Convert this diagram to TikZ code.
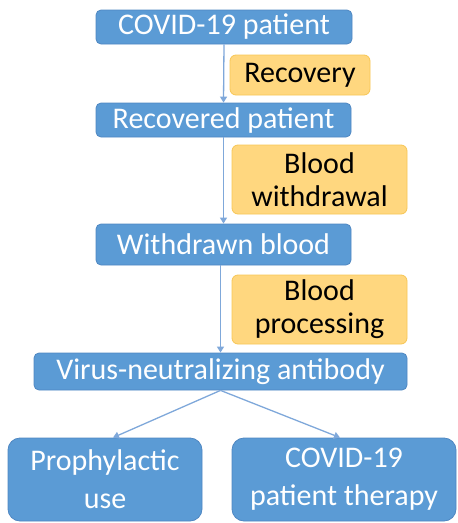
\documentclass[tikz,border=0pt]{standalone}
\usepackage{fontspec}
\setmainfont{Carlito}
\usetikzlibrary{arrows.meta,calc}
\definecolor{boxblue}{HTML}{5B9BD5}
\definecolor{boxblueedge}{HTML}{4F87C2}
\definecolor{boxorange}{HTML}{FFD77F}
\definecolor{boxorangeedge}{HTML}{F7C655}
\definecolor{linkblue}{HTML}{7FA8DA}
\tikzset{
  bluebox/.style={rectangle, rounded corners=5pt, fill=boxblue, draw=boxblueedge, line width=0.8pt,
    text=white, align=center, inner sep=0pt, font=\fontsize{30}{33}\selectfont},
  bigbox/.style={bluebox, rounded corners=12pt, font=\fontsize{30}{38}\selectfont},
  orangebox/.style={rectangle, rounded corners=6pt, fill=boxorange, draw=boxorangeedge, line width=0.8pt,
    text=black, align=center, inner sep=0pt, font=\fontsize{30}{33}\selectfont},
  link/.style={draw=linkblue, line width=1.3pt, -{Triangle[length=6pt,width=7pt]}},
}
\begin{document}
\begin{tikzpicture}[x=1pt,y=-1pt]
\useasboundingbox (0,0) rectangle (458,523);
\node[bluebox, minimum width=256pt, minimum height=34pt] (b1) at (224,27) {COVID-19 patient};
\node[orangebox, minimum width=140pt, minimum height=40pt] (o1) at (300,75) {Recovery};
\node[bluebox, minimum width=255pt, minimum height=34pt] (b2) at (223.5,120) {Recovered patient};
\node[orangebox, minimum width=175pt, minimum height=69pt] (o2) at (319.5,179.5) {Blood\\withdrawal};
\node[bluebox, minimum width=255pt, minimum height=41pt] (b3) at (223.5,244.5) {Withdrawn blood};
\node[orangebox, minimum width=175pt, minimum height=69pt] (o3) at (319.5,309.5) {Blood\\processing};
\node[bluebox, minimum width=373pt, minimum height=37pt] (b4) at (220.5,371.5) {Virus-neutralizing antibody};
\node[bigbox, minimum width=194pt, minimum height=83pt] (b5) at (105,479.5) {Prophylactic\\use};
\node[bigbox, minimum width=224pt, minimum height=83pt] (b6) at (344,479.5) {COVID-19\\patient therapy};
\draw[link] (b1.south) -- (b2.north);
\draw[link] (b2.south) -- (b3.north);
\draw[link] (b4.north |- b3.south) -- (b4.north);
\draw[link] (b4.south) -- ([xshift=8pt]b5.north);
\draw[link] (b4.south) -- ([xshift=-4pt]b6.north);
\end{tikzpicture}
\end{document}
